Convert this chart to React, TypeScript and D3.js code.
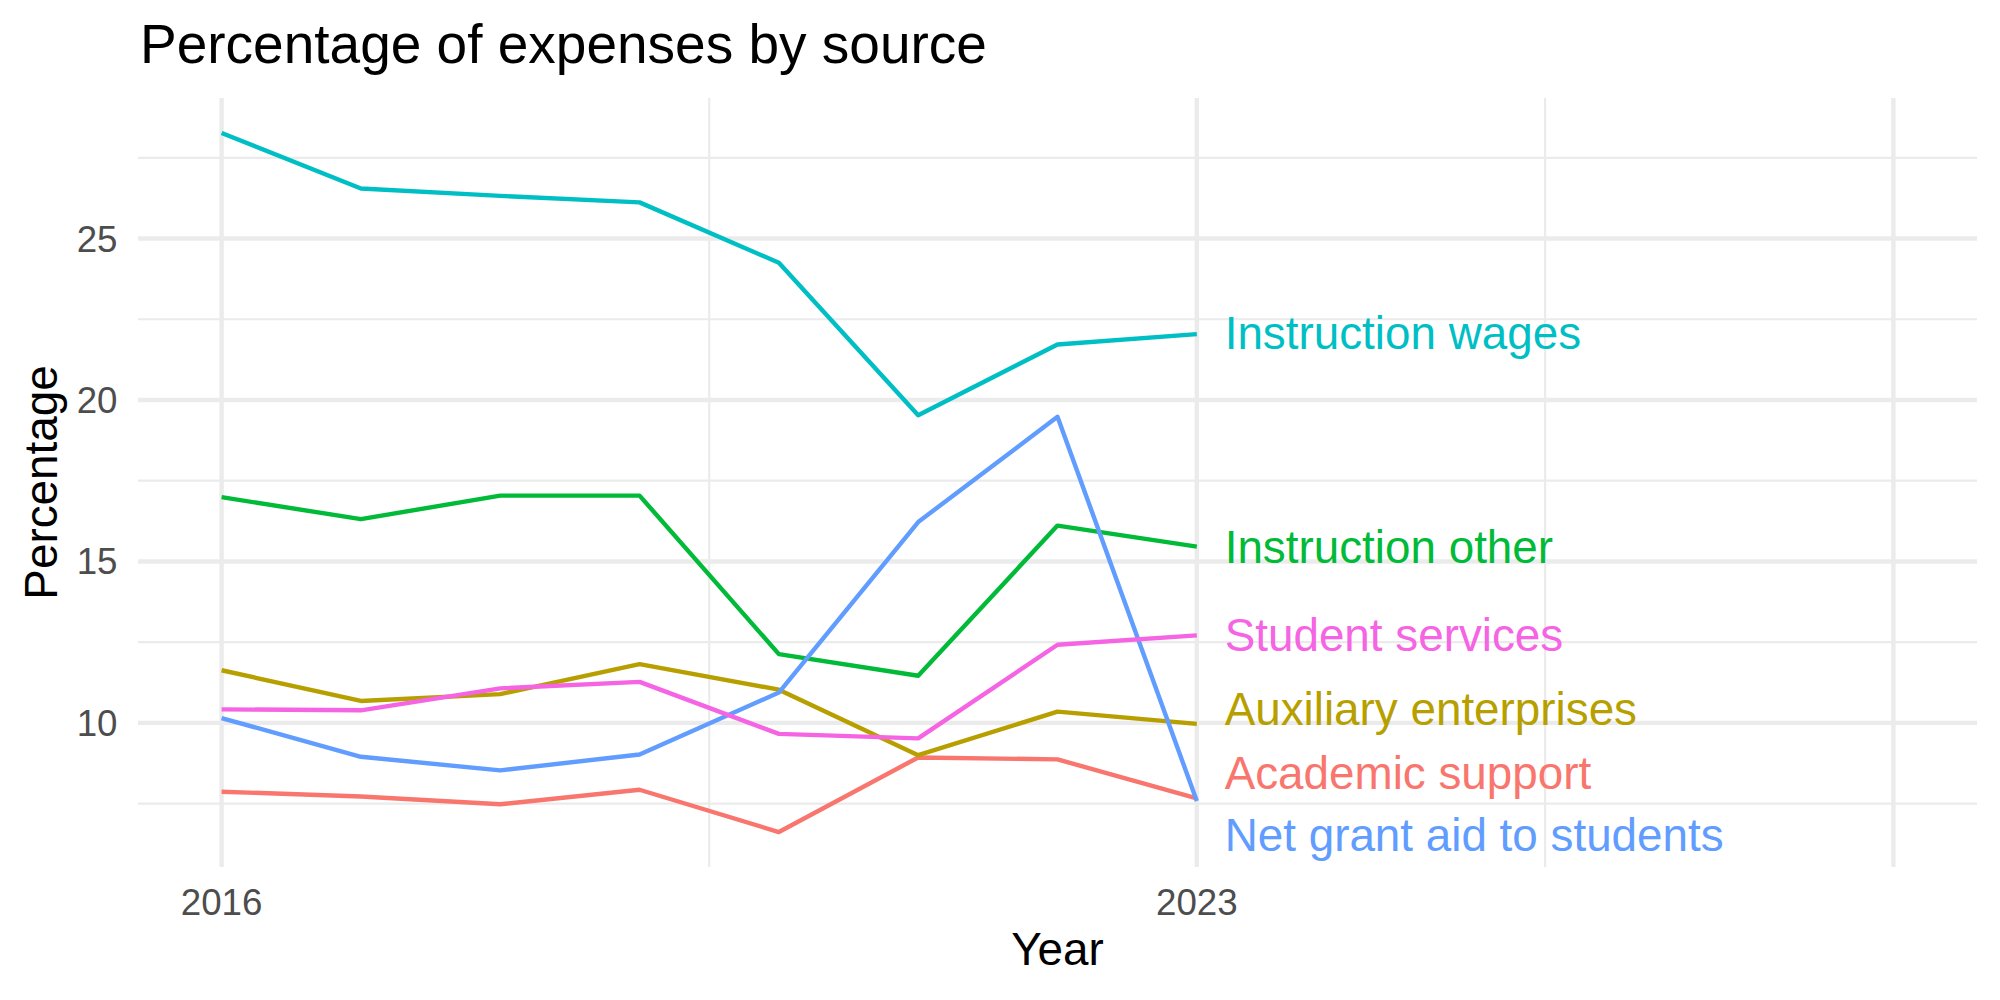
import React from "react";
import * as d3 from "d3";

const years = [2016, 2017, 2018, 2019, 2020, 2021, 2022, 2023];
const seriesNames = [
  "Academic support",
  "Auxiliary enterprises",
  "Instruction other",
  "Instruction wages",
  "Net grant aid to students",
  "Student services",
];
const academicSupport = [7.87, 7.72, 7.48, 7.93, 6.62, 8.93, 8.87, 7.66];
const auxiliaryEnterprises = [11.63, 10.68, 10.89, 11.82, 11.03, 9.0, 10.35, 9.97];
const instructionOther = [16.99, 16.31, 17.04, 17.04, 12.13, 11.46, 16.11, 15.46];
const instructionWages = [28.27, 26.55, 26.32, 26.12, 24.25, 19.53, 21.72, 22.04];
const netGrantAid = [10.15, 8.95, 8.53, 9.02, 10.94, 16.22, 19.48, 7.58];
const studentServices = [10.42, 10.39, 11.07, 11.27, 9.66, 9.52, 12.42, 12.71];
const seriesValues = [
  academicSupport,
  auxiliaryEnterprises,
  instructionOther,
  instructionWages,
  netGrantAid,
  studentServices,
];
const seriesColors = ["#F8766D", "#B79F00", "#00BA38", "#00BFC4", "#619CFF", "#F564E3"];
// label vertical positions (data units, after repel)
const labelValues = [8.45, 10.44, 15.44, 22.06, 6.52, 12.71];
const labelNudgeYears = 0.2;

const xLimits = [2016, 2028];
const xMajor = [2016, 2023, 2028];
const xMinor = [2019.5, 2025.5];
const xTickLabels = [2016, 2023];
const yMajor = [10, 15, 20, 25];
const yMinor = [7.5, 12.5, 17.5, 22.5, 27.5];

const W = 2000;
const H = 1000;
const panel = { left: 138, right: 1977, top: 98, bottom: 867 };
const FONT = "'Liberation Sans', Arial, Helvetica, sans-serif";

export default function App() {
  const allVals = seriesValues.flat();
  const yMin = d3.min(allVals) as number;
  const yMax = d3.max(allVals) as number;
  const yPad = (yMax - yMin) * 0.05;
  const xPad = (xLimits[1] - xLimits[0]) * 0.05;

  const x = d3
    .scaleLinear()
    .domain([xLimits[0] - xPad, xLimits[1] + xPad])
    .range([panel.left, panel.right]);
  const y = d3
    .scaleLinear()
    .domain([yMin - yPad, yMax + yPad])
    .range([panel.bottom, panel.top]);

  const line = d3
    .line<number>()
    .x((_, i) => x(years[i]))
    .y((d) => y(d));

  const gridColor = "#EBEBEB";
  const majorW = 4.4;
  const minorW = 2.2;

  return (
    <svg
      width={W}
      height={H}
      viewBox={`0 0 ${W} ${H}`}
      style={{ position: "absolute", left: 0, top: 0, display: "block", background: "#fff" }}
    >
      <rect x={0} y={0} width={W} height={H} fill="#fff" />
      {/* minor grid */}
      {yMinor.map((v) => (
        <line key={"ym" + v} x1={panel.left} x2={panel.right} y1={y(v)} y2={y(v)} stroke={gridColor} strokeWidth={minorW} />
      ))}
      {xMinor.map((v) => (
        <line key={"xm" + v} x1={x(v)} x2={x(v)} y1={panel.top} y2={panel.bottom} stroke={gridColor} strokeWidth={minorW} />
      ))}
      {/* major grid */}
      {yMajor.map((v) => (
        <line key={"yM" + v} x1={panel.left} x2={panel.right} y1={y(v)} y2={y(v)} stroke={gridColor} strokeWidth={majorW} />
      ))}
      {xMajor.map((v) => (
        <line key={"xM" + v} x1={x(v)} x2={x(v)} y1={panel.top} y2={panel.bottom} stroke={gridColor} strokeWidth={majorW} />
      ))}

      {/* lines */}
      {seriesValues.map((vals, i) => (
        <path
          key={seriesNames[i]}
          d={line(vals) as string}
          fill="none"
          stroke={seriesColors[i]}
          strokeWidth={4.4}
          strokeLinejoin="round"
          strokeLinecap="butt"
        />
      ))}

      {/* end labels */}
      {seriesNames.map((name, i) => (
        <text
          key={"lab" + name}
          x={x(years[years.length - 1] + labelNudgeYears)}
          y={y(labelValues[i])}
          dy={16}
          fill={seriesColors[i]}
          fontFamily={FONT}
          fontSize={45.8}
          textAnchor="start"
        >
          {name}
        </text>
      ))}

      {/* y tick labels */}
      {yMajor.map((v) => (
        <text
          key={"yt" + v}
          x={117.5}
          y={y(v)}
          dy={13}
          fill="#4D4D4D"
          fontFamily={FONT}
          fontSize={36.7}
          textAnchor="end"
        >
          {v}
        </text>
      ))}
      {/* x tick labels */}
      {xTickLabels.map((v) => (
        <text
          key={"xt" + v}
          x={x(v)}
          y={914.5}
          fill="#4D4D4D"
          fontFamily={FONT}
          fontSize={36.7}
          textAnchor="middle"
        >
          {v}
        </text>
      ))}

      {/* axis titles */}
      <text
        x={(panel.left + panel.right) / 2}
        y={965}
        fill="#000"
        fontFamily={FONT}
        fontSize={45.8}
        textAnchor="middle"
      >
        Year
      </text>
      <text
        transform={`translate(56.5, ${(panel.top + panel.bottom) / 2}) rotate(-90)`}
        fill="#000"
        fontFamily={FONT}
        fontSize={45.8}
        textAnchor="middle"
      >
        Percentage
      </text>

      {/* title */}
      <text x={140} y={62.5} fill="#000" fontFamily={FONT} fontSize={55} textAnchor="start">
        Percentage of expenses by source
      </text>
    </svg>
  );
}
